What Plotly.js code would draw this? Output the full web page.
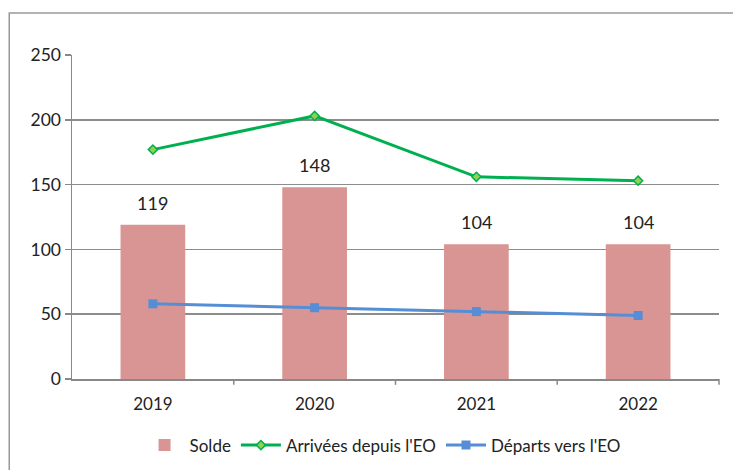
<!DOCTYPE html>
<html>
<head>
<meta charset="utf-8">
<script src="https://cdn.plot.ly/plotly-3.0.1.min.js"></script>
<style>html,body{margin:0;padding:0;background:#fff;}#chart{width:733px;height:470px;}</style>
</head>
<body>
<div id="chart"></div>
<script>
var years = ["2019", "2020", "2021", "2022"];
var solde = [119, 148, 104, 104];
var arrivees = [177, 203, 156, 153];
var departs = [58, 55, 52, 49];

var FONT = "Lato, 'Open Sans', sans-serif";

var traces = [
  {
    type: "bar", name: "Solde", x: years, y: solde,
    marker: {color: "#d99594"}, width: 0.4
  },
  {
    type: "scatter", mode: "lines+markers", name: "Arrivées depuis l'EO", x: years, y: arrivees,
    line: {color: "#00b050", width: 3},
    marker: {symbol: "diamond", size: 7, color: "#92d050", line: {color: "#00b050", width: 1.5}}
  },
  {
    type: "scatter", mode: "lines+markers", name: "Départs vers l'EO", x: years, y: departs,
    line: {color: "#558ed5", width: 3},
    marker: {symbol: "square", size: 9, color: "#558ed5"}
  }
];

var labelAnnotations = years.map(function (yr, i) {
  return {
    x: i, y: solde[i], xref: "x", yref: "y",
    text: String(solde[i]), showarrow: false,
    yanchor: "bottom", yshift: 9,
    font: {family: FONT, size: 18, color: "#222"}
  };
});

var layout = {
  width: 733, height: 470,
  margin: {l: 72, r: 14, t: 55, b: 91, autoexpand: false},
  paper_bgcolor: "#fff", plot_bgcolor: "#fff",
  font: {family: FONT, size: 17, color: "#222"},
  showlegend: true,
  xaxis: {
    type: "category", range: [-0.5, 3.5],
    showgrid: false, zeroline: false,
    showline: true, linecolor: "#888", linewidth: 1.5,
    ticks: "", tickfont: {family: FONT, size: 17, color: "#222"},
    ticklabelstandoff: 9, automargin: false
  },
  yaxis: {
    range: [0, 250], tickvals: [0, 50, 100, 150, 200, 250],
    showgrid: true, gridcolor: "#8c8c8c", gridwidth: 1.5,
    zeroline: false, showline: true, linecolor: "#888", linewidth: 1.5,
    ticks: "outside", ticklen: 6, tickcolor: "#888", tickwidth: 1.5,
    tickfont: {family: FONT, size: 17.5, color: "#222"}, automargin: false
  },
  legend: {
    orientation: "h", x: 0.48, xanchor: "center",
    yref: "container", y: 0.052, yanchor: "middle",
    font: {family: FONT, size: 17, color: "#222"},
    itemwidth: 40, tracegroupgap: 0
  },
  annotations: labelAnnotations,
  shapes: [
    {type: "rect", xref: "paper", yref: "paper", x0: -0.097, x1: 1.1, y0: 1.13, y1: -0.4,
     line: {color: "#999", width: 1.5}, fillcolor: "rgba(0,0,0,0)", layer: "below"},
    {type: "line", xref: "paper", yref: "paper", x0: 0.25, x1: 0.25, y0: 0, y1: -0.018, line: {color: "#888", width: 1.5}},
    {type: "line", xref: "paper", yref: "paper", x0: 0.5, x1: 0.5, y0: 0, y1: -0.018, line: {color: "#888", width: 1.5}},
    {type: "line", xref: "paper", yref: "paper", x0: 0.75, x1: 0.75, y0: 0, y1: -0.018, line: {color: "#888", width: 1.5}},
    {type: "line", xref: "paper", yref: "paper", x0: 1, x1: 1, y0: 0, y1: -0.018, line: {color: "#888", width: 1.5}}
  ]
};

Plotly.newPlot("chart", traces, layout, {displayModeBar: false, staticPlot: true});
</script>
</body>
</html>
